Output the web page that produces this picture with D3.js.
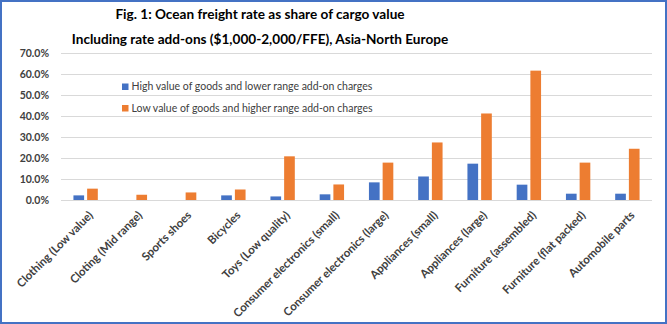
<!DOCTYPE html>
<html>
<head>
<meta charset="utf-8">
<script src="https://cdn.jsdelivr.net/npm/d3@7"></script>
<style>
  html, body { margin: 0; padding: 0; background: #fff; }
  svg { display: block; font-family: Lato, 'Open Sans', sans-serif; }
</style>
</head>
<body>
<div id="chart"></div>
<script>
const WIDTH = 667
const HEIGHT = 324
const BLUE = '#4472c4'
const ORANGE = '#ed7d31'
const GRID_COLOR = '#d9d9d9'
const TEXT_COLOR = '#404040'

const titleLines = [
  'Fig. 1: Ocean freight rate as share of cargo value',
  'Including rate add-ons ($1,000-2,000/FFE), Asia-North Europe'
]
const categories = [
  'Clothing (Low value)', 'Cloting (Mid range)', 'Sports shoes', 'Bicycles',
  'Toys (Low quality)', 'Consumer electronics (small)', 'Consumer electronics (large)',
  'Appliances (small)', 'Appliances (large)', 'Furniture (assembled)',
  'Furniture (flat packed)', 'Automobile parts'
]
const seriesNames = [
  'High value of goods and lower range add-on charges',
  'Low value of goods and higher range add-on charges'
]
// share of cargo value
const highValue = [0.022, 0, 0, 0.022, 0.017, 0.027, 0.084, 0.112, 0.173, 0.073, 0.030, 0.030]
const lowValue = [0.054, 0.025, 0.036, 0.050, 0.208, 0.074, 0.178, 0.274, 0.412, 0.616, 0.178, 0.244]
const yTicks = [0, 0.1, 0.2, 0.3, 0.4, 0.5, 0.6, 0.7]

const margin = {left: 61, right: 15, top: 53, bottom: 124}
const plotRight = WIDTH - margin.right
const plotBottom = HEIGHT - margin.bottom

const svg = d3.select('#chart').append('svg')
  .attr('width', WIDTH).attr('height', HEIGHT)

// 外框
svg.append('rect')
  .attr('x', 1).attr('y', 1)
  .attr('width', WIDTH - 2).attr('height', HEIGHT - 2)
  .attr('fill', '#fff')
  .attr('stroke', BLUE).attr('stroke-width', 2)

// 标题
svg.append('g').selectAll('text').data(titleLines).enter()
  .append('text')
  .attr('x', 260)
  .attr('y', (d, i) => 18.5 + i * 25)
  .attr('text-anchor', 'middle')
  .attr('font-size', 13.6)
  .attr('font-weight', 'bold')
  .attr('fill', '#000')
  .text(d => d)

const x0 = d3.scaleBand().domain(categories)
  .range([margin.left, plotRight])
  .paddingInner(0.505).paddingOuter(0.2525)
const x1 = d3.scaleBand().domain(seriesNames)
  .range([0, x0.bandwidth()])
  .paddingInner(0.22)
const y = d3.scaleLinear().domain([0, 0.7]).range([plotBottom, margin.top])

// 水平辅助线
const gridAxis = d3.axisLeft(y).tickValues(yTicks).tickSize(-(plotRight - margin.left)).tickFormat('')
const grid = svg.append('g')
  .attr('transform', `translate(${margin.left}, 0)`)
  .call(gridAxis)
grid.select('.domain').remove()
grid.selectAll('.tick line').attr('stroke', GRID_COLOR).attr('stroke-width', 1)

// Y轴
const yAxis = d3.axisLeft(y).tickValues(yTicks).tickSize(0).tickPadding(12)
  .tickFormat(d3.format('.1%'))
const yAxisEl = svg.append('g')
  .attr('transform', `translate(${margin.left}, 0)`)
  .call(yAxis)
yAxisEl.select('.domain').remove()
yAxisEl.selectAll('.tick text')
  .attr('font-family', 'Lato, sans-serif')
  .attr('font-size', 10.5)
  .attr('font-weight', 'bold')
  .attr('fill', TEXT_COLOR)

// 柱子
const rows = categories.map((c, i) => ({category: c, values: [highValue[i], lowValue[i]]}))
const colors = d3.scaleOrdinal().domain(seriesNames).range([BLUE, ORANGE])

svg.append('g').selectAll('g').data(rows).enter()
  .append('g')
  .attr('transform', d => `translate(${x0(d.category)}, 0)`)
  .selectAll('rect')
  .data(d => d.values.map((v, k) => ({series: seriesNames[k], value: v})))
  .enter().append('rect')
  .attr('x', d => x1(d.series))
  .attr('y', d => y(d.value))
  .attr('width', x1.bandwidth())
  .attr('height', d => y(0) - y(d.value))
  .attr('fill', d => colors(d.series))

// X轴
const xAxis = d3.axisBottom(x0).tickSize(0).tickPadding(0)
const xAxisEl = svg.append('g')
  .attr('transform', `translate(0, ${plotBottom})`)
  .call(xAxis)
xAxisEl.select('.domain')
  .attr('d', `M${margin.left},0.5H${plotRight}`)
  .attr('stroke', GRID_COLOR)
xAxisEl.selectAll('.tick text')
  .attr('font-family', 'Lato, sans-serif')
  .attr('font-size', 11.4)
  .attr('font-weight', 'bold')
  .attr('fill', TEXT_COLOR)
  .attr('text-anchor', 'end')
  .attr('dy', 0)
  .attr('transform', 'translate(8, 16) rotate(-45)')

// 图例
const legend = svg.append('g').selectAll('g').data(seriesNames).enter()
  .append('g')
  .attr('transform', (d, i) => `translate(122, ${83.5 + i * 21.5})`)
legend.append('rect')
  .attr('width', 6.5).attr('height', 6.5)
  .attr('fill', d => colors(d))
legend.append('text')
  .attr('x', 9.5).attr('y', 6.8)
  .attr('font-size', 10.5)
  .attr('fill', TEXT_COLOR)
  .text(d => d)
</script>
</body>
</html>
